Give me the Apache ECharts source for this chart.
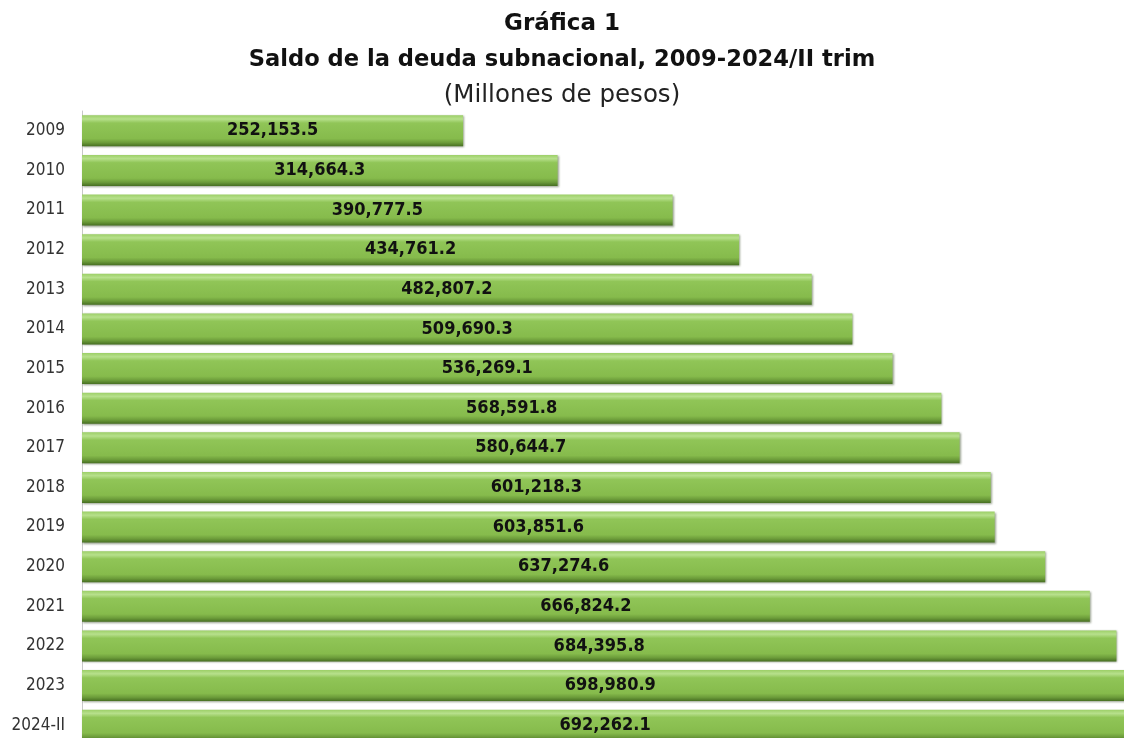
<!DOCTYPE html>
<html>
<head>
<meta charset="utf-8">
<title>Saldo de la deuda subnacional</title>
<script src="https://cdn.jsdelivr.net/npm/echarts@6/dist/echarts.min.js"></script>
<style>
  html, body { margin: 0; padding: 0; background: #fff; }
  #chart { width: 1124px; height: 738px; }
</style>
</head>
<body>
<div id="chart"></div>
<script>
const years = ["2009", "2010", "2011", "2012", "2013", "2014", "2015", "2016",
  "2017", "2018", "2019", "2020", "2021", "2022", "2023", "2024-II"]
const saldo = [252153.5, 314664.3, 390777.5, 434761.2, 482807.2, 509690.3, 536269.1, 568591.8,
  580644.7, 601218.3, 603851.6, 637274.6, 666824.2, 684395.8, 698980.9, 692262.1]

const fmt = v => v.toLocaleString("en-US", { minimumFractionDigits: 1, maximumFractionDigits: 1 })

const chart = echarts.init(document.getElementById("chart"))

// barra con relieve: franja clara arriba, sombra abajo
const barFill = new echarts.graphic.LinearGradient(0, 0, 0, 1, [
  { offset: 0, color: "#9ccf67" },
  { offset: 0.12, color: "#b7e08c" },
  { offset: 0.25, color: "#90c557" },
  { offset: 0.75, color: "#86bb4c" },
  { offset: 0.88, color: "#6c9c3a" },
  { offset: 1, color: "#476f22" },
])

chart.setOption({
  animation: false,
  title: [
    {
      text: "Gráfica 1",
      left: "center", top: 8,
      textStyle: { fontFamily: "DejaVu Sans", fontWeight: "bold", fontSize: 23, color: "#111" },
    },
    {
      text: "Saldo de la deuda subnacional, 2009-2024/II trim",
      left: "center", top: 44,
      textStyle: { fontFamily: "DejaVu Sans", fontWeight: "bold", fontSize: 22.6, color: "#111" },
    },
    {
      text: "(Millones de pesos)",
      left: "center", top: 78,
      textStyle: { fontFamily: "DejaVu Sans", fontWeight: "normal", fontSize: 24.5, color: "#222" },
    },
  ],
  // la rejilla se sale del lienzo por la derecha y por abajo, como en el original
  grid: { left: 82, right: -16, top: 111, bottom: -7, outerBoundsMode: "none" },
  xAxis: {
    type: "value",
    min: 0,
    max: 700000,
    show: false,
  },
  yAxis: {
    type: "category",
    inverse: true,
    data: years,
    axisLine: { show: true, lineStyle: { color: "#c8c8c8", width: 1 } },
    axisTick: { show: false },
    axisLabel: {
      fontFamily: "DejaVu Sans Condensed",
      fontSize: 17,
      color: "#333",
      margin: 17,
    },
  },
  series: [
    {
      type: "bar",
      data: saldo,
      barWidth: 31,
      itemStyle: {
        color: barFill,
        shadowColor: "rgba(30,50,10,0.45)",
        shadowBlur: 2,
        shadowOffsetX: 1,
        shadowOffsetY: 1,
      },
      label: {
        show: true,
        position: "inside",
        formatter: p => fmt(p.value),
        fontFamily: "DejaVu Sans Condensed",
        fontWeight: "bold",
        fontSize: 18,
        color: "#111",
      },
    },
  ],
})
</script>
</body>
</html>
